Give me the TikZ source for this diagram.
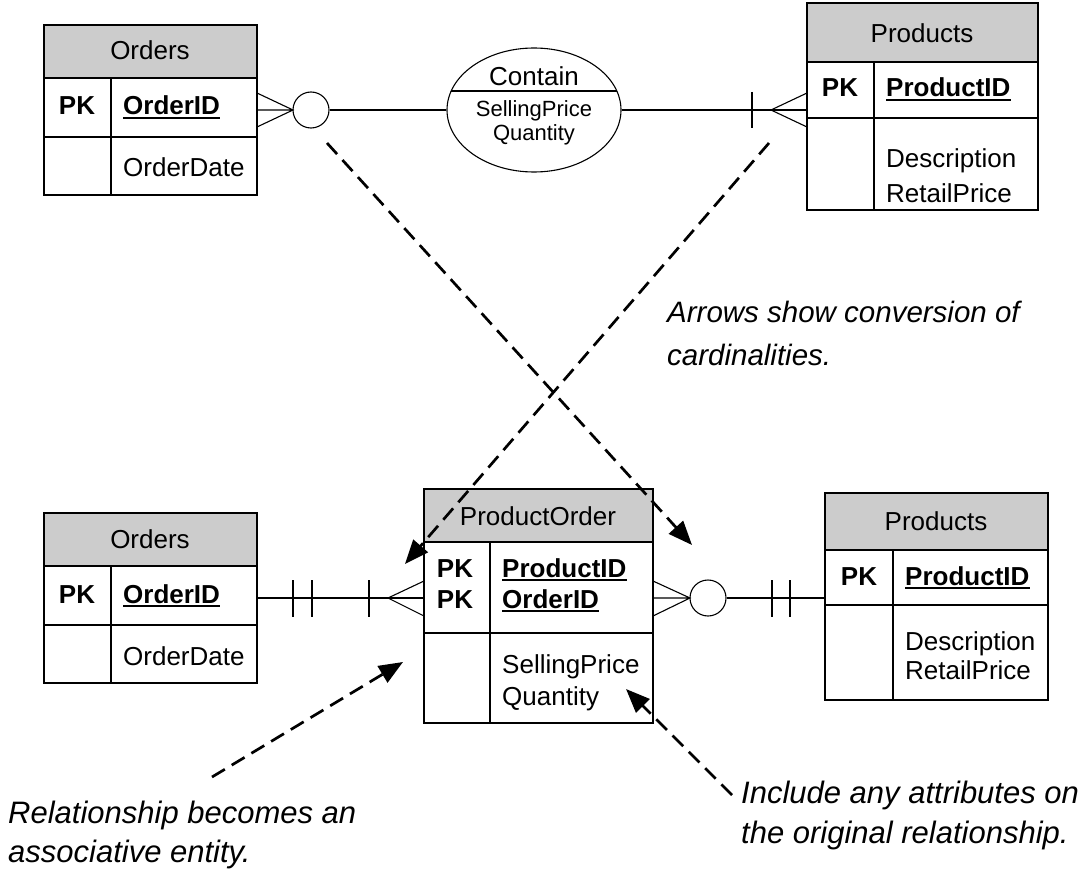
\documentclass[tikz,border=0pt]{standalone}
\usepackage{fontspec}
\setmainfont{Liberation Sans}
\usetikzlibrary{arrows.meta,shapes.geometric}
\definecolor{hdr}{RGB}{204,204,204}
\tikzset{
  tbl/.style={line width=2pt},
  conn/.style={line width=1.1pt},
  txt/.style={inner sep=0pt, font=\fontsize{26}{30}\selectfont},
  btxt/.style={inner sep=0pt, font=\fontsize{26}{30}\selectfont\bfseries},
  stxt/.style={inner sep=0pt, font=\fontsize{22}{25}\selectfont},
  itxt/.style={inner sep=0pt, font=\fontsize{29.5}{34}\selectfont\itshape, anchor=base west},
  iltxt/.style={inner sep=0pt, font=\fontsize{31}{36}\selectfont\itshape, anchor=base west},
  ul/.style={line width=2.2pt},
  notearrow/.style={line width=2.7pt, dash pattern=on 15pt off 8pt, -{Triangle[length=24pt,width=19pt]}},
}
% #1 x left, #2 x divider, #3 x right, #4 y top, #5 y header bottom, #6 y row bottom, #7 y bottom
\newcommand\ERtab[7]{%
  \fill[hdr] (#1,#4) rectangle (#3,#5);
  \draw[tbl] (#1,#4) rectangle (#3,#7);
  \draw[tbl] (#1,#5) -- (#3,#5) (#1,#6) -- (#3,#6) (#2,#5) -- (#2,#7);
}
\begin{document}
\begin{tikzpicture}[x=1pt,y=-1pt]
\useasboundingbox (0,0) rectangle (1092,869);

% ---------- top Orders ----------
\ERtab{44}{111}{257}{25}{78}{137}{195}
\node[txt, anchor=base] (o1h) at (150,60) {Orders};
\node[btxt, anchor=base] (o1pk) at (77,115) {PK};
\node[btxt, anchor=base west] (o1id) at (123,115) {OrderID};
\draw[ul] ([yshift=-3pt]o1id.base west) -- ([yshift=-3pt]o1id.base east);
\node[txt, anchor=base west] (o1d) at (123,177) {OrderDate};

% ---------- top Products ----------
\ERtab{807}{874}{1038}{3}{62}{118}{210}
\node[txt, anchor=base] (p1h) at (922,43) {Products};
\node[btxt, anchor=base] (p1pk) at (840,97) {PK};
\node[btxt, anchor=base west] (p1id) at (886,97) {ProductID};
\draw[ul] ([yshift=-3pt]p1id.base west) -- ([yshift=-3pt]p1id.base east);
\node[txt, anchor=base west] (p1d) at (886,168) {Description};
\node[txt, anchor=base west] (p1r) at (886,203) {RetailPrice};

% ---------- Contain relationship ----------
\node[ellipse, draw, conn, minimum width=174pt, minimum height=124pt, inner sep=0pt] (rel) at (534,110) {};
\draw[conn] (451.2,91) -- (616.8,91);
\node[txt, anchor=base] (relh) at (534,86) {Contain};
\node[stxt, anchor=base] (rels) at (534,117) {SellingPrice};
\node[stxt, anchor=base] (relq) at (534,141) {Quantity};

% top connectors
\node[circle, draw, conn, minimum size=36pt, inner sep=0pt] (c1) at (311,110) {};
\coordinate (o1r) at (257,110);
\coordinate (o1a) at (257,93);
\coordinate (o1b) at (257,127);
\coordinate (f1) at (293,110);
\draw[conn] (o1a) -- (f1) -- (o1b) (o1r) -- (f1);
\draw[conn] (c1.east) -- (rel.west);
\coordinate (p1l) at (807,110);
\coordinate (p1a) at (807,93);
\coordinate (p1b) at (807,127);
\coordinate (f2) at (771,110);
\draw[conn] (rel.east) -- (p1l);
\draw[conn] (p1a) -- (f2) -- (p1b);
\draw[conn] (752,92) -- (752,128);

% ---------- bottom Orders ----------
\ERtab{44}{111}{257}{513}{566}{625}{683}
\node[txt, anchor=base] (o2h) at (150,548) {Orders};
\node[btxt, anchor=base] (o2pk) at (77,603) {PK};
\node[btxt, anchor=base west] (o2id) at (123,603) {OrderID};
\draw[ul] ([yshift=-3pt]o2id.base west) -- ([yshift=-3pt]o2id.base east);
\node[txt, anchor=base west] (o2d) at (123,665) {OrderDate};

% ---------- ProductOrder ----------
\ERtab{424}{490}{653}{489}{542}{633}{723}
\node[txt, anchor=base] (poh) at (538,525) {ProductOrder};
\node[btxt, anchor=base] (popk1) at (455,577) {PK};
\node[btxt, anchor=base] (popk2) at (455,608) {PK};
\node[btxt, anchor=base west] (popid) at (502,577) {ProductID};
\draw[ul] ([yshift=-3pt]popid.base west) -- ([yshift=-3pt]popid.base east);
\node[btxt, anchor=base west] (pooid) at (502,608) {OrderID};
\draw[ul] ([yshift=-3pt]pooid.base west) -- ([yshift=-3pt]pooid.base east);
\node[txt, anchor=base west] (pos) at (502,673) {SellingPrice};
\node[txt, anchor=base west] (poq) at (502,705) {Quantity};

% ---------- bottom Products ----------
\ERtab{825}{893}{1048}{493}{550}{605}{700}
\node[txt, anchor=base] (p2h) at (936,530) {Products};
\node[btxt, anchor=base] (p2pk) at (859,585) {PK};
\node[btxt, anchor=base west] (p2id) at (905,585) {ProductID};
\draw[ul] ([yshift=-3pt]p2id.base west) -- ([yshift=-3pt]p2id.base east);
\node[txt, anchor=base west] (p2d) at (905,650) {Description};
\node[txt, anchor=base west] (p2r) at (905,679) {RetailPrice};

% bottom connectors
\coordinate (o2r) at (257,598);
\coordinate (pol) at (424,598);
\coordinate (pola) at (424,581);
\coordinate (polb) at (424,616);
\coordinate (f3) at (388,598);
\draw[conn] (o2r) -- (pol);
\draw[conn] (pola) -- (f3) -- (polb);
\draw[conn] (293,580) -- (293,617) (312,580) -- (312,617) (369,580) -- (369,617);
\node[circle, draw, conn, minimum size=36pt, inner sep=0pt] (c2) at (708,598) {};
\coordinate (por) at (653,598);
\coordinate (pora) at (653,581);
\coordinate (porb) at (653,616);
\coordinate (f4) at (690,598);
\coordinate (p2l) at (825,598);
\draw[conn] (pora) -- (f4) -- (porb) (por) -- (f4);
\draw[conn] (c2.east) -- (p2l);
\draw[conn] (772,580) -- (772,617) (790,580) -- (790,617);

% ---------- annotation arrows ----------
\coordinate (a1s) at (327,143);
\coordinate (a1e) at (692,545);
\coordinate (a2s) at (769,143);
\coordinate (a2e) at (405,564);
\coordinate (a3s) at (212,777);
\coordinate (a3e) at (403,662);
\coordinate (a4s) at (732,795);
\coordinate (a4e) at (626,689);
\draw[notearrow] (a1s) -- (a1e);
\draw[notearrow] (a2s) -- (a2e);
\draw[notearrow] (a3s) -- (a3e);
\draw[notearrow] (a4s) -- (a4e);

% ---------- notes ----------
\node[itxt] (n1a) at (667,322) {Arrows show conversion of};
\node[itxt] (n1b) at (667,365) {cardinalities.};
\node[iltxt] (n2a) at (8,823) {Relationship becomes an};
\node[iltxt] (n2b) at (8,862) {associative entity.};
\node[iltxt] (n3a) at (741,803) {Include any attributes on};
\node[iltxt] (n3b) at (741,843) {the original relationship.};
\end{tikzpicture}
\end{document}
